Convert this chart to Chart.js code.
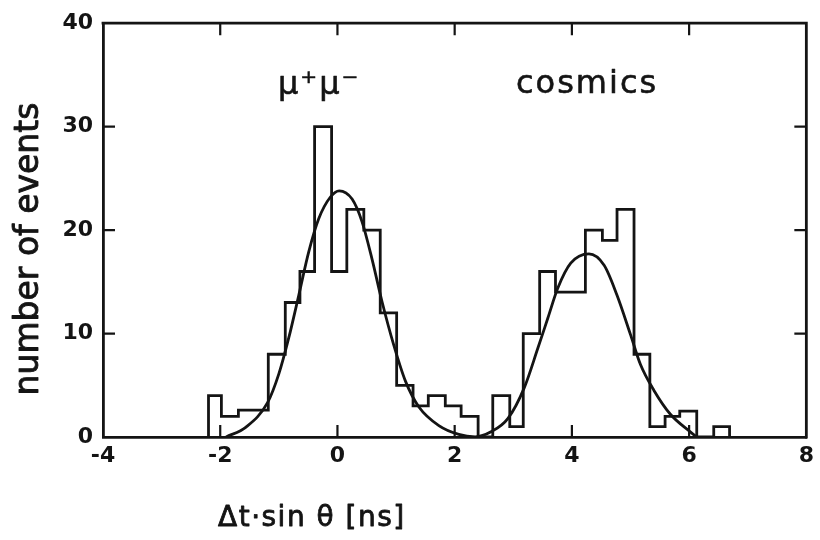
<!DOCTYPE html>
<html>
<head>
<meta charset="utf-8">
<title>Δt·sin θ distribution</title>
<script src="https://cdn.jsdelivr.net/npm/chart.js@4/dist/chart.umd.min.js"></script>
<style>
  html, body { margin: 0; padding: 0; background: #fff; }
  #wrap { width: 820px; height: 540px; }
</style>
</head>
<body>
<div id="wrap"><canvas id="timing" width="820" height="540"></canvas></div>
<script>
// Δt·sin θ timing histogram: μ+μ− pairs around 0 ns, cosmic rays around 4 ns

// bin edges in ns (one more than there are bins)
const BIN_EDGES = [
  -2.20, -1.98, -1.69, -1.44, -1.18, -0.89, -0.64, -0.39, -0.10, 0.16,
  0.45, 0.73, 1.01, 1.29, 1.55, 1.84, 2.11, 2.40, 2.65, 2.94,
  3.17, 3.45, 3.72, 3.98, 4.23, 4.52, 4.77, 5.06, 5.33, 5.59,
  5.84, 6.13, 6.42, 6.69,
];
// events per bin
const EVENTS = [
  4, 2, 2.6, 2.6, 8, 13, 16, 30, 16, 22,
  20, 12, 5, 3, 4, 3, 2, 0, 4, 1,
  10, 16, 14, 14, 20, 19, 22, 8, 1, 2,
  2.5, 0, 1,
];

// fitted curve (two gaussians), sampled along the drawn line
const FIT_X = [
  -1.90, -1.56, -1.19, -1.00, -0.83, -0.66, -0.49, -0.32, -0.12, 0.03,
  0.25, 0.42, 0.59, 0.76, 0.96, 1.16, 1.39, 1.73, 2.07, 2.35,
  2.62, 2.91, 3.19, 3.42, 3.59, 3.76, 3.98, 4.29, 4.55, 4.77,
  5.00, 5.17, 5.40, 5.68, 6.02, 6.13,
];
const FIT_Y = [
  0, 0.96, 3.35, 6.1, 9.6, 13.7, 17.9, 21.1, 23.2, 23.8,
  23.0, 20.8, 17.2, 13.1, 8.9, 5.4, 2.9, 1.1, 0.25, 0.02,
  0.5, 1.8, 4.8, 8.6, 11.5, 14.4, 16.8, 17.7, 16.6, 13.7,
  9.9, 7.0, 4.5, 2.2, 0.5, 0,
];

const X_TICKS = [-4, -2, 0, 2, 4, 6, 8];
const Y_TICKS = [0, 10, 20, 30, 40];

const INK = "#141414";
const TICK_LEN = 12;
Chart.defaults.font.family = "'DejaVu Sans', sans-serif";
Chart.defaults.color = INK;

function histogramPoints(edges, counts) {
  // stepped 'before': the line runs flat at a point's level, then drops to the next
  const pts = [{ x: edges[0], y: 0 }];
  counts.forEach((c, i) => pts.push({ x: edges[i], y: c }));
  pts.push({ x: edges[edges.length - 1], y: counts[counts.length - 1] });
  pts.push({ x: edges[edges.length - 1], y: 0 });
  return pts;
}

// filled text with a thin outline so the lettering reads a little heavier
function inkText(ctx, text, x, y, weight) {
  ctx.fillText(text, x, y);
  ctx.lineWidth = weight;
  ctx.strokeText(text, x, y);
}

const frameAndText = {
  id: "frameAndText",
  afterDraw(chart) {
    const { ctx, chartArea: a, scales: { x, y } } = chart;
    ctx.save();
    ctx.strokeStyle = INK;
    ctx.lineCap = "square";

    // top and right sides of the box
    ctx.lineWidth = 2.8;
    ctx.beginPath();
    ctx.moveTo(a.left, a.top);
    ctx.lineTo(a.right, a.top);
    ctx.lineTo(a.right, a.bottom);
    ctx.stroke();

    // inward tick marks
    ctx.lineWidth = 2.2;
    ctx.lineCap = "butt";
    ctx.beginPath();
    X_TICKS.slice(1, -1).forEach((v) => {
      const px = x.getPixelForValue(v);
      ctx.moveTo(px, a.bottom);
      ctx.lineTo(px, a.bottom - TICK_LEN);
      ctx.moveTo(px, a.top);
      ctx.lineTo(px, a.top + TICK_LEN);
    });
    Y_TICKS.slice(1, -1).forEach((v) => {
      const py = y.getPixelForValue(v);
      ctx.moveTo(a.left, py);
      ctx.lineTo(a.left + TICK_LEN, py);
      ctx.moveTo(a.right, py);
      ctx.lineTo(a.right - TICK_LEN, py);
    });
    ctx.stroke();

    ctx.fillStyle = INK;
    ctx.lineJoin = "round";
    ctx.textBaseline = "alphabetic";
    ctx.textAlign = "left";

    ctx.font = "32px 'DejaVu Sans'";
    ctx.letterSpacing = "2px";
    inkText(ctx, "μ⁺μ⁻", 278, 94, 0.6);
    inkText(ctx, "cosmics", 516, 93, 0.6);

    ctx.font = "28px 'DejaVu Sans'";
    ctx.letterSpacing = "1.5px";
    inkText(ctx, "Δt·sin θ [ns]", 218, 526, 0.8);

    ctx.font = "33px 'DejaVu Sans'";
    ctx.letterSpacing = "0px";
    ctx.translate(38, 249);
    ctx.rotate(-Math.PI / 2);
    ctx.textAlign = "center";
    inkText(ctx, "number of events", 0, 0, 0.9);
    ctx.restore();
  },
};

new Chart(document.getElementById("timing"), {
  type: "line",
  data: {
    datasets: [
      {
        label: "events",
        data: histogramPoints(BIN_EDGES, EVENTS),
        stepped: "before",
        borderColor: INK,
        borderWidth: 2.8,
        pointRadius: 0,
        fill: false,
      },
      {
        label: "fit",
        data: FIT_X.map((v, i) => ({ x: v, y: FIT_Y[i] })),
        cubicInterpolationMode: "monotone",
        borderColor: INK,
        borderWidth: 2.8,
        pointRadius: 0,
        fill: false,
      },
    ],
  },
  options: {
    responsive: false,
    devicePixelRatio: 1,
    animation: false,
    layout: { padding: { left: 0, right: 10, top: 19, bottom: 0 } },
    plugins: {
      legend: { display: false },
      tooltip: { enabled: false },
    },
    scales: {
      x: {
        type: "linear",
        min: -4,
        max: 8,
        afterBuildTicks: (s) => { s.ticks = X_TICKS.map((v) => ({ value: v })); },
        afterFit: (s) => { s.height = 103; },
        grid: { display: false, drawTicks: false },
        border: { display: true, color: INK, width: 2.8 },
        ticks: { font: { size: 22, weight: "bold" }, padding: 6, maxRotation: 0, color: INK },
      },
      y: {
        min: 0,
        max: 40,
        afterBuildTicks: (s) => { s.ticks = Y_TICKS.map((v) => ({ value: v })); },
        afterFit: (s) => { s.width = 103; },
        grid: { display: false, drawTicks: false },
        border: { display: true, color: INK, width: 2.8 },
        ticks: { font: { size: 22, weight: "bold" }, padding: 10, color: INK },
      },
    },
  },
  plugins: [frameAndText],
});
</script>
</body>
</html>
